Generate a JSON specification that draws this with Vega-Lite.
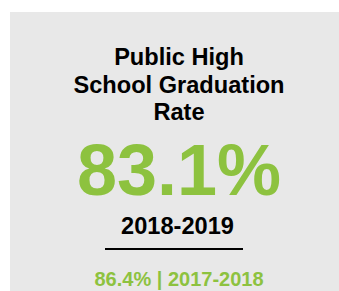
{
  "$schema": "https://vega.github.io/schema/vega-lite/v6.json",
  "autosize": {"type": "fit", "contains": "padding"},
  "width": 339,
  "height": 291,
  "padding": {"left": 10, "top": 12, "right": 0, "bottom": 0},
  "background": "#ffffff",
  "view": {"fill": "#e8e8e8", "stroke": null},
  "config": {"font": "Liberation Sans"},
  "data": {
    "values": [
      {"metric": "Public High\nSchool Graduation\nRate", "value": 0.831, "year": "2018-2019", "prev_value": 0.864, "prev_year": "2017-2018"}
    ]
  },
  "transform": [
    {"calculate": "format(datum.prev_value, '.1%') + ' | ' + datum.prev_year", "as": "prev_label"},
    {"calculate": "format(datum.value, '.1%')", "as": "value_label"}
  ],
  "layer": [
    {
      "mark": {"type": "text", "x": {"expr": "width/2 + 4.5"}, "y": 53, "align": "center", "baseline": "alphabetic", "fontSize": 23.6, "fontWeight": "bold", "lineBreak": "\n", "lineHeight": 27.5, "color": "#000000"},
      "encoding": {"text": {"field": "metric"}}
    },
    {
      "mark": {"type": "text", "x": {"expr": "width/2 + 4.5"}, "y": 183, "align": "center", "baseline": "alphabetic", "fontSize": 72, "fontWeight": "bold", "color": "#8dc23f"},
      "encoding": {"text": {"field": "value_label"}}
    },
    {
      "mark": {"type": "text", "x": {"expr": "width/2 + 3"}, "y": 222, "align": "center", "baseline": "alphabetic", "fontSize": 23.6, "fontWeight": "bold", "color": "#000000"},
      "encoding": {"text": {"field": "year"}}
    },
    {
      "mark": {"type": "rule", "strokeWidth": 2, "color": "#000000"},
      "encoding": {"x": {"value": 95}, "x2": {"value": 233}, "y": {"value": 237}}
    },
    {
      "mark": {"type": "text", "x": {"expr": "width/2 + 4.5"}, "y": 274, "align": "center", "baseline": "alphabetic", "fontSize": 20, "fontWeight": "bold", "color": "#8dc23f"},
      "encoding": {"text": {"field": "prev_label"}}
    }
  ]
}
